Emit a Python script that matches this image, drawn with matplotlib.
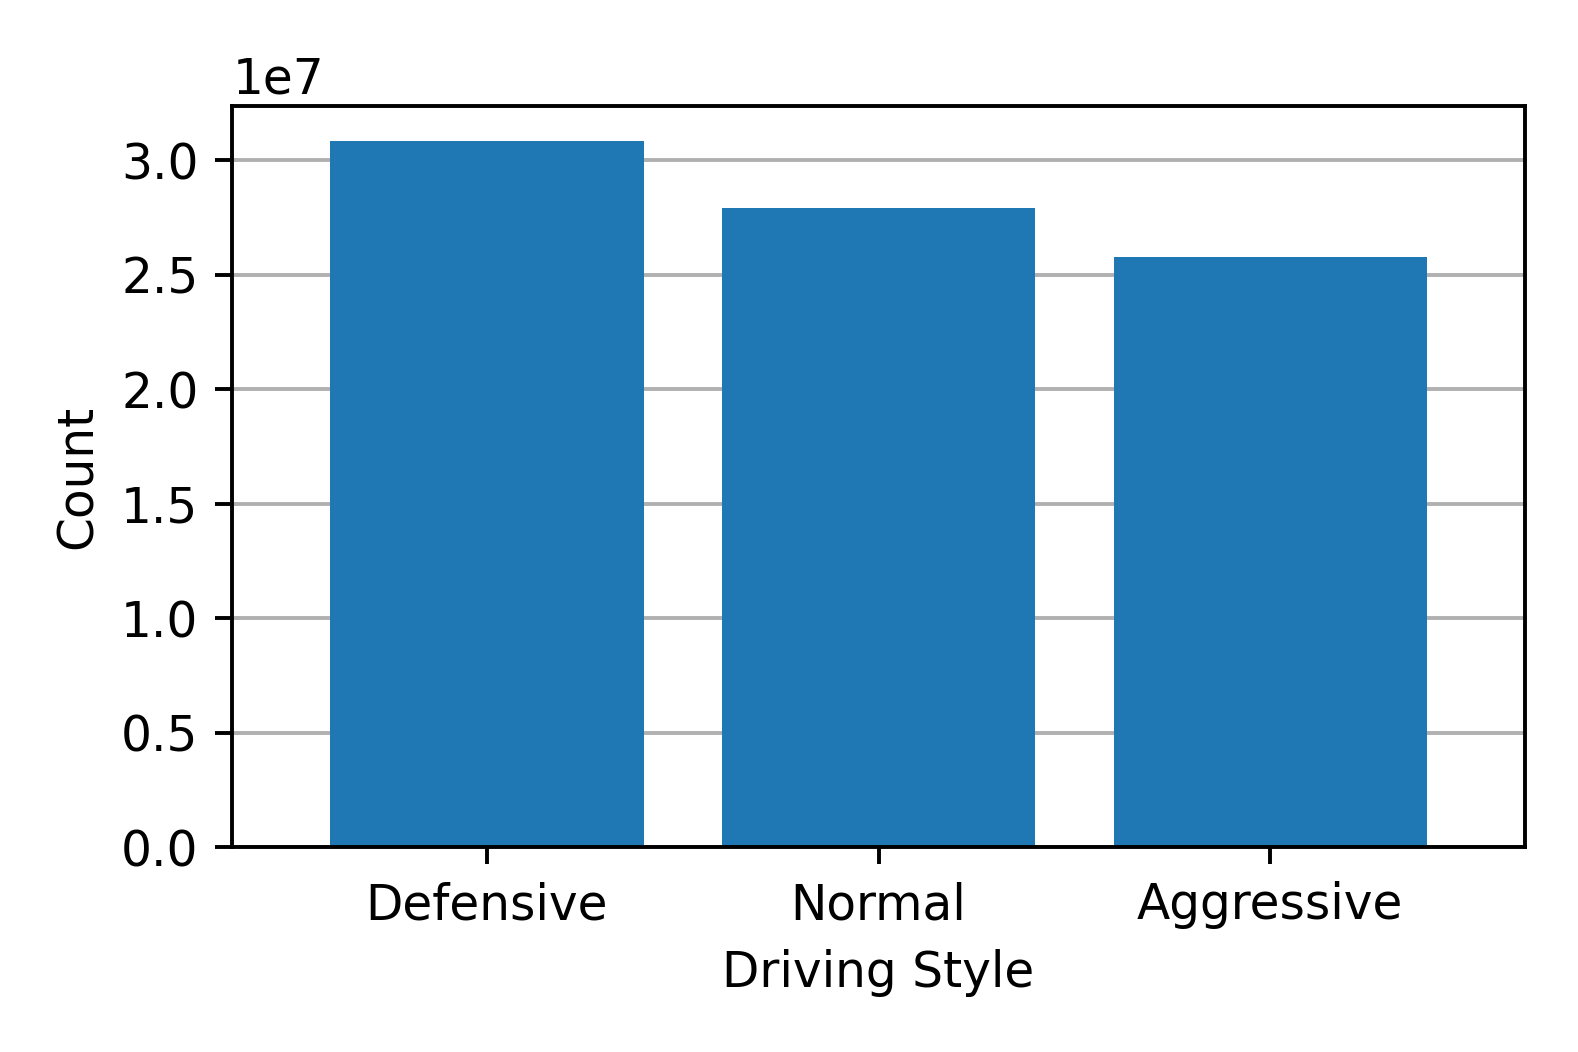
import matplotlib
matplotlib.use("Agg")
import matplotlib.pyplot as plt

categories = ["Defensive", "Normal", "Aggressive"]
counts = [30850000, 27900000, 25790000]

s = 1.167
plt.rcParams.update({
    "font.size": 10 * s,
    "axes.linewidth": 0.8 * s,
    "xtick.major.size": 3.5 * s,
    "ytick.major.size": 3.5 * s,
    "xtick.major.width": 0.8 * s,
    "ytick.major.width": 0.8 * s,
    "xtick.major.pad": 3.5 * s,
    "ytick.major.pad": 3.5 * s,
    "axes.labelpad": 4.0 * s,
})

fig = plt.figure(figsize=(15.78 / 3, 10.52 / 3), dpi=300)
ax = fig.add_axes([0.1473, 0.1945, 0.9662 - 0.1473, 0.8997 - 0.1945])
ax.bar(categories, counts, width=0.8, color="#1f77b4", zorder=2)
ax.set_xlim(-0.65, 2.65)
ax.yaxis.grid(True, color="#b0b0b0", linewidth=0.8 * s, zorder=0)
ax.set_axisbelow(True)
ax.set_xlabel("Driving Style")
ax.set_ylabel("Count")
fig.savefig("out.png", dpi=300)
